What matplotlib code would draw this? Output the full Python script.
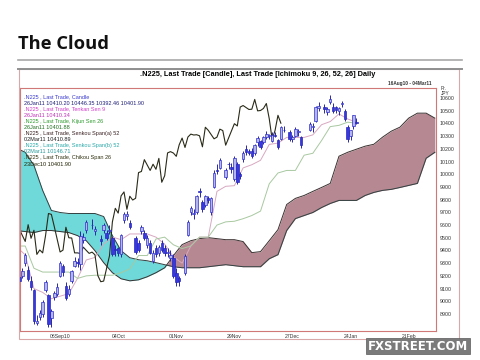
import matplotlib.pyplot as plt
import matplotlib.lines as mlines
import matplotlib.patches as mpatches
import numpy as np
import pandas as pd

nan = float('nan')

# daily N225 candles, one entry per weekday from 16Aug10 (nan = market closed)
opens = [9230, 9190, 9200, 9300, 9250, 9160, 9090, 8830, 8880, 8900,
         9090, 9050, 8870, 9030, 9060, 9200, 9280, 9120, 9060, 9160,
         9280, 9310, 9290, 9480, 9560, nan, 9600, 9550, nan, 9490,
         9560, 9540, 9550, 9500, 9410, 9420, 9370, 9640, 9670, 9620,
         nan, 9500, 9460, 9550, 9540, 9440, 9460, 9320, 9420, 9380,
         9460, 9420, 9380, 9340, 9340, 9220, 9180, nan, 9220, 9520,
         9700, 9690, 9700, 9870, 9780, 9760, 9810, 9700, 9900, 10030,
         10050, nan, 9980, 10080, 10060, 9960, 10080, 10000, 10120, 10200,
         10180, 10180, 10170, 10250, 10260, 10250, 10290, 10300, 10260, 10310,
         10270, 10280, 10350, nan, 10330, 10280, 10300, 10330, 10290, nan,
         nan, 10350, 10370, 10420, 10520, nan, 10530, 10490, 10570, 10530,
         10530, 10500, 10550, 10500, 10370, 10300, 10380, 10410.20]
highs = [9260, 9230, 9260, 9380, 9280, 9200, 9100, 8890, 8930, 9010,
         9170, 9060, 8940, 9080, 9140, 9320, 9290, 9150, 9130, 9250,
         9350, 9340, 9550, 9540, 9640, nan, 9650, 9590, nan, 9520,
         9620, 9560, 9600, 9510, 9440, 9430, 9530, 9700, 9710, 9640,
         nan, 9510, 9480, 9600, 9560, 9520, 9480, 9400, 9440, 9440,
         9480, 9440, 9420, 9400, 9370, 9260, 9200, nan, 9370, 9640,
         9750, 9730, 9840, 9890, 9800, 9840, 9830, 9820, 10030, 10080,
         10130, nan, 10050, 10100, 10090, 10140, 10100, 10020, 10180, 10230,
         10200, 10210, 10240, 10300, 10270, 10300, 10340, 10320, 10330, 10330,
         10280, 10380, 10380, nan, 10350, 10310, 10370, 10360, 10300, nan,
         nan, 10410, 10400, 10540, 10570, nan, 10550, 10530, 10620, 10560,
         10540, 10530, 10580, 10510, 10390, 10350, 10470, 10446.35]
lows = [9170, 9130, 9180, 9280, 9160, 9090, 8820, 8810, 8850, 8880,
        9070, 8800, 8800, 9010, 9040, 9190, 9200, 9010, 9040, 9140,
        9270, 9270, 9250, 9460, 9540, nan, 9570, 9520, nan, 9440,
        9540, 9480, 9530, 9360, 9360, 9360, 9350, 9620, 9640, 9570,
        nan, 9370, 9390, 9530, 9480, 9420, 9370, 9300, 9350, 9360,
        9390, 9360, 9350, 9320, 9180, 9120, 9120, nan, 9210, 9510,
        9680, 9650, 9690, 9820, 9700, 9740, 9770, 9680, 9890, 10000,
        10040, nan, 9960, 10040, 10010, 9950, 9920, 9960, 10100, 10150,
        10150, 10130, 10150, 10220, 10200, 10240, 10280, 10280, 10250, 10290,
        10200, 10270, 10330, nan, 10260, 10250, 10290, 10300, 10210, nan,
        nan, 10340, 10330, 10410, 10500, nan, 10480, 10470, 10550, 10480,
        10480, 10470, 10530, 10420, 10250, 10270, 10360, 10392.46]
closes = [9196, 9161, 9240, 9362, 9179, 9116, 8845, 8845, 8906, 8991,
          9149, 8824, 8927, 9062, 9114, 9301, 9227, 9024, 9098, 9239,
          9321, 9299, 9516, 9509, 9626, nan, 9602, 9566, nan, 9471,
          9603, 9496, 9559, 9369, 9404, 9381, 9518, 9691, 9684, 9588,
          nan, 9388, 9403, 9583, 9500, 9498, 9381, 9381, 9376, 9426,
          9401, 9377, 9387, 9366, 9202, 9154, 9159, nan, 9358, 9625,
          9732, 9694, 9830, 9861, 9724, 9827, 9797, 9811, 10013, 10022,
          10115, nan, 10030, 10079, 10039, 10125, 9937, 9988, 10168, 10178,
          10167, 10141, 10232, 10285, 10211, 10293, 10316, 10309, 10311, 10303,
          10216, 10370, 10346, nan, 10279, 10292, 10355, 10344, 10229, nan,
          nan, 10398, 10380, 10529, 10541, nan, 10510, 10512, 10589, 10499,
          10502, 10518, 10557, 10437, 10274, 10345, 10464, 10401.90]

# ichimoku lines, one value every 3 weekdays
STEP = 3
tenkan = [9430, 9365, 9100, 9070, 9020, 9040, 9060, 9180, 9325, 9345,
          9450, 9505, 9485, 9530, 9530, 9530, 9505, 9450, 9350, 9300,
          9435, 9505, 9505, 9865, 9905, 9910, 10050, 10075, 10110, 10235,
          10245, 10290, 10290, 10290, 10310, 10390, 10415, 10475, 10435, 10410]
kijun = [9435, 9435, 9260, 9230, 9230, 9230, 9230, 9180, 9200, 9205,
         9205, 9205, 9225, 9255, 9360, 9360, 9490, 9505, 9445, 9415,
         9435, 9505, 9505, 9600, 9625, 9630, 9650, 9675, 9710, 9925,
         10010, 10030, 10030, 10150, 10165, 10265, 10375, 10385, 10410, 10402]
senkou_a = [9557, 9549, 9541, 9557, 9557, 9549, 9541, 9517, 9477, 9398,
            9304, 9225, 9177, 9161, 9169, 9193, 9225, 9264, 9359, 9446,
            9477, 9493, 9501, 9493, 9485, 9485, 9470, 9383, 9391, 9477,
            9564, 9762, 9810, 9833, 9865, 9896, 9928, 10142, 10173, 10197,
            10221, 10236, 10292, 10339, 10371, 10442, 10481, 10481, 10442]
senkou_b = [10205, 10173, 10070, 9873, 9715, 9699, 9691, 9691, 9691, 9691,
            9667, 9517, 9398, 9343, 9327, 9319, 9304, 9288, 9272, 9264,
            9264, 9264, 9272, 9280, 9288, 9280, 9272, 9272, 9272, 9335,
            9367, 9557, 9651, 9675, 9699, 9738, 9770, 9794, 9794, 9794,
            9833, 9857, 9873, 9881, 9896, 9912, 9928, 10126, 10173]
CHIKOU_SHIFT = 26

date_labels = ['06Sep10', '04Oct', '01Nov', '29Nov', '27Dec', '24Jan', '21Feb']
date_ticks = ['2010-09-06', '2010-10-04', '2010-11-01', '2010-11-29',
              '2010-12-27', '2011-01-24', '2011-02-21']
price_ticks = list(range(8900, 10601, 100))

legend_lines = [
    ('.N225 , Last Trade, Candle', '#3a3ad0'),
    ('26Jan11 10410.20 10446.35 10392.46 10401.90', '#20207a'),
    ('.N225 , Last Trade, Tenkan Sen 9', '#d040c8'),
    ('26Jan11 10410.34', '#c030b8'),
    ('.N225 , Last Trade, Kijun Sen 26', '#2e9a2e'),
    ('26Jan11 10401.88', '#207020'),
    ('.N225 , Last Trade, Senkou Span(a) 52', '#3a2020'),
    ('02Mar11 10410.89', '#202020'),
    ('.N225 , Last Trade, Senkou Span(b) 52', '#2aa8a8'),
    ('02Mar11 10146.71', '#2a9a9a'),
    ('.N225 , Last Trade, Chikou Span 26', '#303010'),
    ('23Dec10 10401.90', '#202000'),
]

W, H = 480.0, 360.0
def fx(px):
    return px / W
def fy(py):
    return 1 - py / H

fig = plt.figure(figsize=(4.8, 3.6), dpi=100)
fig.patch.set_facecolor('white')

# slide heading
fig.text(fx(18), fy(44), 'The Cloud', fontsize=13.2, fontweight='bold',
         family='Open Sans', va='center', ha='left', color='#111111')
fig.add_artist(mlines.Line2D([fx(18), fx(462)], [fy(60), fy(60)], color='#a8a8a8', lw=1.2))

# chart picture frame
fig.add_artist(mpatches.Rectangle((fx(19), fy(339)), fx(440), 270 / H, fill=False,
                                  edgecolor='#d8a8a8', lw=0.8))
fig.add_artist(mlines.Line2D([fx(18), fx(462)], [fy(68.5), fy(68.5)], color='#909090', lw=1.4))

fig.text(fx(258), fy(75), '.N225, Last Trade [Candle], Last Trade [Ichimoku 9, 26, 52, 26] Daily',
         fontsize=5.3, fontweight='bold', family='Liberation Sans', ha='center', va='center')
fig.text(fx(432), fy(84), '16Aug10 - 04Mar11', fontsize=3.4, fontweight='bold',
         family='Liberation Sans', ha='right', va='center', color='#333333')
fig.text(fx(441), fy(91), 'Pr.\nJPY', fontsize=3.4, family='Liberation Sans',
         ha='left', va='center', color='#333333', linespacing=1.1)

ax = fig.add_axes([fx(20), fy(331), 416 / W, 243 / H])
ax.set_facecolor('white')

days = pd.bdate_range('2010-08-16', '2011-03-04')
o = np.array(opens)
hi = np.array(highs)
lo = np.array(lows)
c = np.array(closes)
x = np.arange(len(c))
ok = ~np.isnan(c)

# kumo
xs = np.arange(len(senkou_a)) * STEP
sa = np.array(senkou_a)
sb = np.array(senkou_b)
ax.fill_between(xs, sa, sb, where=sa >= sb, interpolate=True, color='#b58892', lw=0, zorder=1)
ax.fill_between(xs, sa, sb, where=sa < sb, interpolate=True, color='#6fd8d8', lw=0, zorder=1)
ax.plot(xs, sa, color='#3a3030', lw=0.7, zorder=2)
ax.plot(xs, sb, color='#304040', lw=0.7, zorder=2)

xt = np.arange(len(tenkan)) * STEP
ax.plot(xt, tenkan, color='#d8a8c0', lw=0.7, zorder=2)
ax.plot(xt, kijun, color='#a8c8a0', lw=0.7, zorder=2)

# chikou span: close drawn 26 periods back
ax.plot(x[ok] - CHIKOU_SHIFT, c[ok], color='#2a2a18', lw=0.8, zorder=2)

# candles
up = ok & (c >= o)
dn = ok & (c < o)
ax.vlines(x[ok], lo[ok], hi[ok], color='#2a2aa0', lw=0.7, zorder=3)
ax.bar(x[up], (c - o)[up], bottom=o[up], width=0.85, color='#b4b4ee',
       edgecolor='#3030c8', lw=0.5, zorder=4)
ax.bar(x[dn], (c - o)[dn], bottom=o[dn], width=0.85, color='#3838e0',
       edgecolor='#2828b8', lw=0.5, zorder=4)

ax.set_xlim(1.2, 144.4)
ax.set_ylim(8766, 10679)

tick_pos = [days.get_loc(pd.Timestamp(d)) for d in date_ticks]
ax.set_xticks(tick_pos)
ax.set_xticklabels(date_labels, fontsize=3.7, family='Liberation Sans', color='#333333')
ax.yaxis.tick_right()
ax.set_yticks(price_ticks)
ax.set_yticklabels([str(v) for v in price_ticks], fontsize=3.8,
                   family='Liberation Sans', color='#333333')
ax.tick_params(axis='both', length=0, pad=2.5)
for s in ax.spines.values():
    s.set_color('#d07878')
    s.set_linewidth(0.8)

for k, (txt, col) in enumerate(legend_lines):
    fig.text(fx(24), fy(97 + k * 6.1), txt, fontsize=4.0, family='Liberation Sans',
             color=col, ha='left', va='center')

# watermark
fig.text(fx(468), fy(346), 'FXSTREET.COM', fontsize=8.5, fontweight='bold',
         family='DejaVu Sans', color='white', ha='right', va='center',
         bbox=dict(boxstyle='square,pad=0.15', facecolor='#7a7a7a', edgecolor='#5a5a5a', lw=0.5))

fig.savefig('out.png', dpi=100, facecolor='white')
